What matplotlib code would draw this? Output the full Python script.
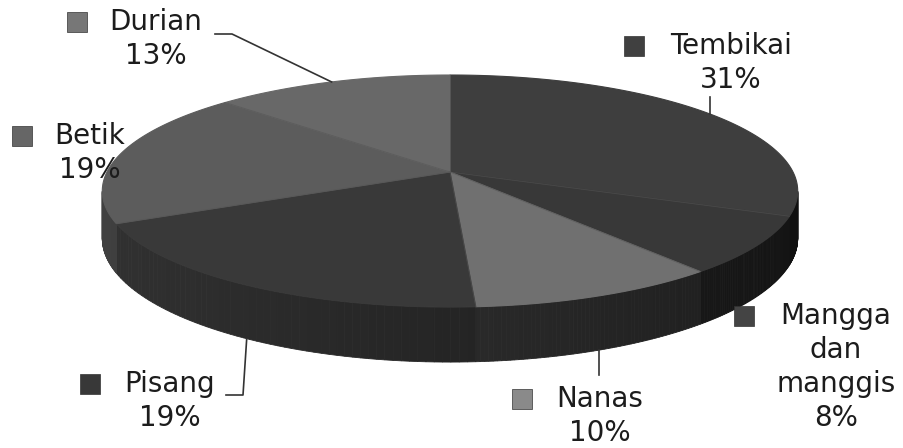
import numpy as np
import matplotlib.pyplot as plt
from matplotlib.colors import to_rgb
from matplotlib.patches import Polygon

# data (percent of fruit area)
fruits = ['Tembikai', 'Mangga\ndan\nmanggis', 'Nanas', 'Pisang', 'Betik', 'Durian']
shares = [31, 8, 10, 19, 19, 13]

# grey shades: top face, side wall, legend key
top_colors = ['#3e3e3e', '#383838', '#707070', '#393939', '#5c5c5c', '#686868']
side_colors = ['#181818', '#1e1e1e', '#2a2a2a', '#252525', '#303030', '#353535']
key_colors = ['#404040', '#444444', '#8a8a8a', '#383838', '#666666', '#777777']

# label layout (pixels): block centre x, top of block y, key x, leader start
label_x = [731, 836, 600, 170, 90, 156]
label_top = [32, 302, 385, 370, 122, 8]
key_x = [634, 744, 522, 90, 22, 77]
leader_from = [[97], None, [375], [(226, 395), (243, 395)],
               None, [(215, 34), (232, 34)]]

# pie geometry in pixels (perspective squash of a flat disc)
CX, CY = 450, 172
RX, RY = 343, 112.9
PERSP = 0.164
DEPTH = 46


def project(theta, drop=0.0):
    u = np.cos(theta)
    v = -np.sin(theta)
    s = 1.0 / (1.0 - PERSP * v)
    return CX + RX * u * s, CY + (RY * v + drop) * s


fig = plt.figure(figsize=(9.04, 4.48), dpi=100)
ax = fig.add_axes([0, 0, 1, 1])
ax.set_xlim(0, 904)
ax.set_ylim(448, 0)
ax.axis('off')

# slice angles, clockwise from 12 o'clock
total = float(sum(shares))
bounds = [np.pi / 2]
for s in shares:
    bounds.append(bounds[-1] - 2 * np.pi * s / total)

# visible front wall lies between the two silhouette angles
vis_lo = -np.pi + np.arcsin(PERSP)
vis_hi = -np.arcsin(PERSP)

for i in range(len(shares)):
    a0, a1 = bounds[i], bounds[i + 1]
    base = np.array(to_rgb(side_colors[i]))
    for off in (0, -2 * np.pi, 2 * np.pi):
        lo = max(min(a0, a1) + off, vis_lo)
        hi = min(max(a0, a1) + off, vis_hi)
        if hi <= lo:
            continue
        t = np.linspace(lo, hi, 60)
        for k in range(len(t) - 1):
            tt = np.array([t[k], t[k + 1]])
            xt, yt = project(tt)
            xb, yb = project(tt[::-1], DEPTH)
            # darker towards the right, a bit lighter on the left
            shade = 1.0 - 0.35 * np.cos(np.mean(tt))
            col = np.clip(base * shade, 0, 1)
            ax.add_patch(Polygon(np.column_stack([np.r_[xt, xb], np.r_[yt, yb]]),
                                 closed=True, facecolor=col, edgecolor=col, lw=0.6))

# top faces
for i in range(len(shares)):
    t = np.linspace(bounds[i], bounds[i + 1], 120)
    xs, ys = project(t)
    pts = np.column_stack([np.r_[CX, xs], np.r_[CY, ys]])
    ax.add_patch(Polygon(pts, closed=True, facecolor=top_colors[i],
                         edgecolor=top_colors[i], lw=0.8))

# faint boundary lines between slices on top
for b in bounds[:-1]:
    xe, ye = project(b)
    ax.plot([CX, xe], [CY, ye], color='#555555', lw=0.6, alpha=0.6)

# labels, keys and leader lines
for i, name in enumerate(fruits):
    ax.text(label_x[i], label_top[i], name + '\n' + str(shares[i]) + '%',
            ha='center', va='top', fontsize=20, color='#1c1c1c',
            family='DejaVu Sans', linespacing=1.27)
    ax.plot(key_x[i], label_top[i] + 14, marker='s', ms=14,
            color=key_colors[i], mec='#333333', mew=0.5)
    if leader_from[i] is not None:
        mid = (bounds[i] + bounds[i + 1]) / 2
        front = -np.sin(mid) > 0
        ax_, ay_ = project(mid, DEPTH if front else 0)
        if len(leader_from[i]) == 1:
            # straight vertical leader
            px, py = [ax_, ax_], [leader_from[i][0], ay_]
        else:
            px = [p[0] for p in leader_from[i]] + [ax_]
            py = [p[1] for p in leader_from[i]] + [ay_]
        ax.plot(px, py, color='#333333', lw=1.2)

fig.savefig('out.png', dpi=100)
